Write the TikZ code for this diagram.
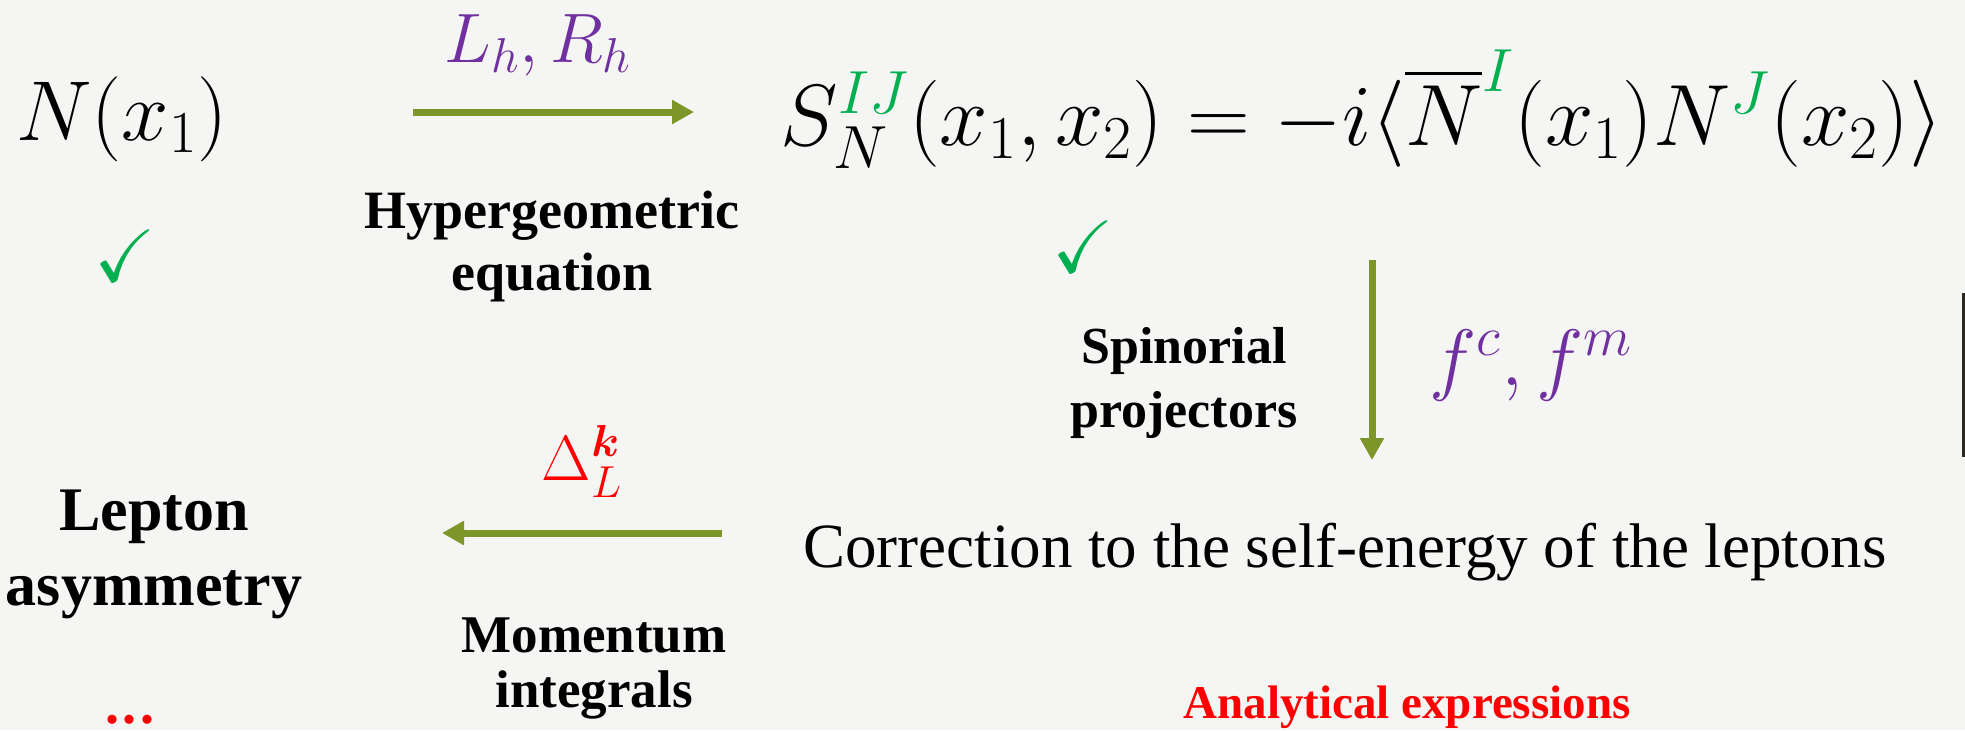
\RequirePackage{fix-cm}
\documentclass[tikz,border=0pt]{standalone}
\usepackage{amsmath,amssymb,bm}
\usepackage[no-math]{fontspec}
\setmainfont{Liberation Serif}
\usetikzlibrary{arrows.meta}
\definecolor{olivearrow}{RGB}{124,150,42}
\definecolor{pptpurple}{RGB}{112,48,160}
\definecolor{pptgreen}{RGB}{0,176,80}
\definecolor{bgpaper}{RGB}{245,245,244}
\definecolor{edgedark}{RGB}{45,40,30}
\begin{document}
\begin{tikzpicture}[x=0.5pt,y=-0.5pt,every node/.style={inner sep=0pt},
  flow/.style={-{Triangle[length=11pt,width=11.5pt]},line width=3.5pt,olivearrow}]
  \fill[bgpaper] (0,0) rectangle (1965,730);
  \useasboundingbox (0,0) rectangle (1965,730);
  \fill[edgedark] (1962,293) rectangle (1965,457);
  % top row
  \node[anchor=base,font=\fontsize{42.5pt}{50pt}\selectfont] (field) at (122,140) {$N(x_1)$};
  \node[anchor=base,font=\fontsize{43.5pt}{50pt}\selectfont] (prop) at (1362,145)
    {$S_N^{\textcolor{pptgreen}{IJ}}(x_1,x_2)=-i\langle\overline{N}^{\textcolor{pptgreen}{I}}(x_1)N^{\textcolor{pptgreen}{J}}(x_2)\rangle$};
  \node[pptgreen,font=\fontsize{37pt}{40pt}\selectfont] (chk field) at (125,256) {$\checkmark$};
  \node[pptgreen,font=\fontsize{37pt}{40pt}\selectfont] (chk prop) at (1083,247) {$\checkmark$};
  % hypergeometric step
  \coordinate (hyp s) at (413,112);
  \coordinate (hyp e) at (694,112);
  \draw[flow] (hyp s) -- (hyp e);
  \node[anchor=base,pptpurple,font=\fontsize{35pt}{40pt}\selectfont] (hyp sym) at (538,62) {$L_h,R_h$};
  \node[anchor=base,align=center,font=\fontsize{27pt}{31pt}\selectfont\bfseries] (hyp txt) at (552,290) {Hypergeometric\\equation};
  % projector step
  \coordinate (proj s) at (1372,260);
  \coordinate (proj e) at (1372,460);
  \draw[flow] (proj s) -- (proj e);
  \node[anchor=base,pptpurple,font=\fontsize{40pt}{44pt}\selectfont] (proj sym) at (1531,385) {$f^c,f^m$};
  \node[anchor=base,align=center,font=\fontsize{26pt}{32pt}\selectfont\bfseries] (proj txt) at (1184,427) {Spinorial\\projectors};
  % bottom row
  \node[anchor=base,font=\fontsize{31.5pt}{36pt}\selectfont] (selfen) at (1345,567) {Correction to the self-energy of the leptons};
  \node[anchor=base,red,font=\fontsize{23.5pt}{28pt}\selectfont\bfseries] (analytic) at (1407,718) {Analytical expressions};
  \coordinate (mom s) at (722,533);
  \coordinate (mom e) at (442,533);
  \draw[flow] (mom s) -- (mom e);
  \node[anchor=base,red,font=\fontsize{32pt}{36pt}\selectfont] (mom sym) at (582,480) {$\Delta_L^{\bm{k}}$};
  \node[anchor=base,align=center,font=\fontsize{26.5pt}{27.5pt}\selectfont\bfseries] (mom txt) at (594,707) {Momentum\\integrals};
  \node[anchor=base,align=center,font=\fontsize{31pt}{37.5pt}\selectfont\bfseries] (asym) at (154,605) {Lepton\\asymmetry};
  \node[anchor=base,red,text depth=0pt,font=\fontsize{28pt}{32pt}\selectfont\bfseries] (dots) at (130,723) {.\kern2pt.\kern2pt.};
\end{tikzpicture}
\end{document}
